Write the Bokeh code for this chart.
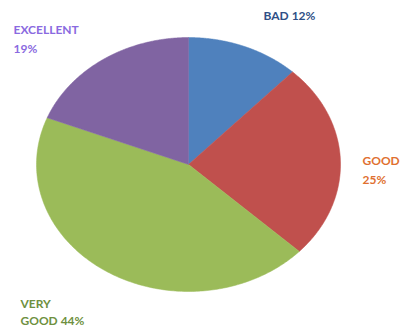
import numpy as np
from bokeh.plotting import figure
from bokeh.models import Range1d, ColumnDataSource
from bokeh.core.properties import value
from bokeh.embed import file_html
from bokeh.resources import INLINE

# ---- data ----
categories = ["BAD", "GOOD", "VERY GOOD", "EXCELLENT"]
percents = [12, 25, 44, 19]

# ---- styles ----
slice_colors = ["#4F81BD", "#C0504D", "#9BBB59", "#8064A2"]
label_colors = ["#2F4F86", "#E07030", "#6E9040", "#8A6AE0"]

W, H = 401, 331
CX, CY = 188, 164      # pie centre in pixels (from top-left)
RX, RY = 152, 127      # horizontal / vertical radius in pixels

p = figure(width=W, height=H, output_backend="svg", toolbar_location=None,
           x_range=Range1d(-CX / RX, (W - CX) / RX),
           y_range=Range1d(-(H - CY) / RY, CY / RY),
           min_border=0, outline_line_color=None)
p.axis.visible = False
p.grid.visible = False
p.background_fill_color = "white"
p.border_fill_color = "white"

total = float(sum(percents))
xs, ys = [], []
start = 0.0
for v in percents:
    end = start + v / total
    t = np.linspace(start, end, 200)
    ang = np.pi / 2 - 2 * np.pi * t
    xs.append([0.0] + list(np.cos(ang)) + [0.0])
    ys.append([0.0] + list(np.sin(ang)) + [0.0])
    start = end

src = ColumnDataSource(dict(xs=xs, ys=ys, color=slice_colors, cat=categories))
p.patches("xs", "ys", source=src, fill_color="color", line_color="color", line_width=0.5)


def px(x, y):
    """picture pixel -> data coords"""
    return (x - CX) / RX, (CY - y) / RY


# label lines: (category index, lines, left x, line centre ys)
label_layout = [
    (0, [f"{categories[0]} {percents[0]}%"], 263, [15]),
    (1, [categories[1], f"{percents[1]}%"], 362, [160, 179]),
    (2, ["VERY", f"GOOD {percents[2]}%"], 20, [303, 320]),
    (3, [categories[3], f"{percents[3]}%"], 13, [29, 48]),
]

for idx, lines, lx, lys in label_layout:
    for txt, ly in zip(lines, lys):
        dx, dy = px(lx, ly)
        p.text(x=[dx], y=[dy], text=[txt], text_font=value("Lato"),
               text_font_style="bold", text_font_size="12px",
               text_color=label_colors[idx], text_align="left",
               text_baseline="middle")

open("out.html", "w").write(file_html(p, INLINE))
